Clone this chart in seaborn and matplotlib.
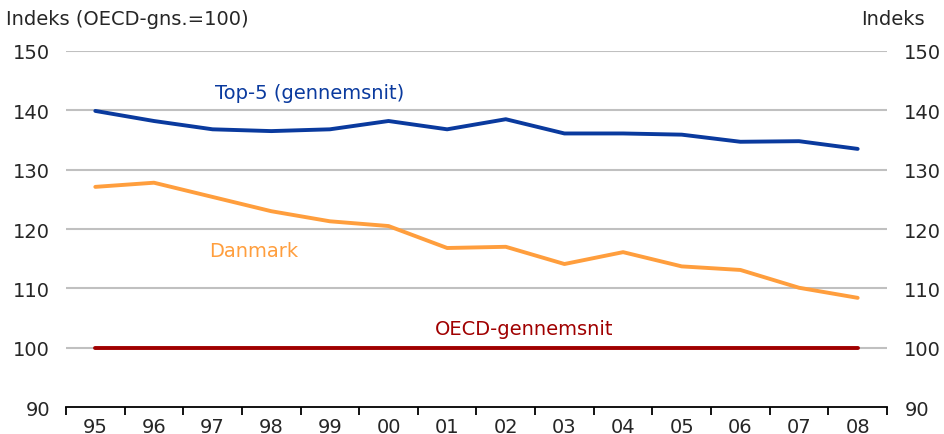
import numpy as np
import pandas as pd
import matplotlib
matplotlib.use('Agg')
import matplotlib.pyplot as plt
import seaborn as sns

years = ['95', '96', '97', '98', '99', '00', '01', '02', '03', '04', '05', '06', '07', '08']
top5 = [139.9, 138.2, 136.8, 136.5, 136.8, 138.2, 136.8, 138.5, 136.1, 136.1, 135.9, 134.7, 134.8, 133.5]
danmark = [127.1, 127.8, 125.4, 123.0, 121.3, 120.5, 116.8, 117.0, 114.1, 116.1, 113.7, 113.1, 110.1, 108.4]
oecd = [100.0] * len(years)

series = ['Top-5 (gennemsnit)', 'Danmark', 'OECD-gennemsnit']
farver = ['#0A3A9E', '#FF9E3D', '#A00000']

df = pd.DataFrame({
    'aar': list(range(len(years))) * 3,
    'indeks': top5 + danmark + oecd,
    'serie': [s for s in series for _ in years],
})

sns.set_style('white')
plt.rcParams['font.family'] = ['DejaVu Sans']
fs = 14

fig = plt.figure(figsize=(9.44, 4.35), dpi=100)
ax = fig.add_axes([0.0699, 0.062, 0.8697, 0.8185])

# vandrette gitterlinjer
for v in range(100, 151, 10):
    ax.axhline(v, color='#C0C0C0', lw=1.5, zorder=0)

sns.lineplot(data=df, x='aar', y='indeks', hue='serie', hue_order=series,
             palette=farver, lw=2.8, legend=False, ax=ax)

ax.set_xlim(-0.5, len(years) - 0.5)
ax.set_ylim(90, 150)
ax.set_yticks(np.arange(90, 151, 10))
ax.set_xticks(np.arange(len(years)))
ax.set_xticklabels(years)
ax.set_xticks(np.arange(-0.5, len(years)), minor=True)
ax.tick_params(axis='x', which='major', length=0, labelsize=fs, pad=7)
ax.tick_params(axis='x', which='minor', length=6, width=1.3, direction='out', color='black', bottom=True)
ax.tick_params(axis='y', length=0, labelsize=fs, pad=11.5)
ax.set_xlabel('')
ax.set_ylabel('')

for side in ['top', 'left', 'right']:
    ax.spines[side].set_visible(False)
ax.spines['bottom'].set_color('black')
ax.spines['bottom'].set_linewidth(1.3)

ax2 = ax.twinx()
ax2.set_ylim(90, 150)
ax2.set_yticks(np.arange(90, 151, 10))
ax2.tick_params(axis='y', length=0, labelsize=fs, pad=12.5)
for side in ['top', 'left', 'right', 'bottom']:
    ax2.spines[side].set_visible(False)

ax.text(3.65, 143, series[0], color=farver[0], fontsize=fs, ha='center', va='center')
ax.text(2.7, 116.4, series[1], color=farver[1], fontsize=fs, ha='center', va='center')
ax.text(7.32, 103.2, series[2], color=farver[2], fontsize=fs, ha='center', va='center')

fig.text(0.006, 0.955, 'Indeks (OECD-gns.=100)', fontsize=fs, ha='left', va='center')
fig.text(0.98, 0.955, 'Indeks', fontsize=fs, ha='right', va='center')

fig.savefig('out.png', dpi=100)
